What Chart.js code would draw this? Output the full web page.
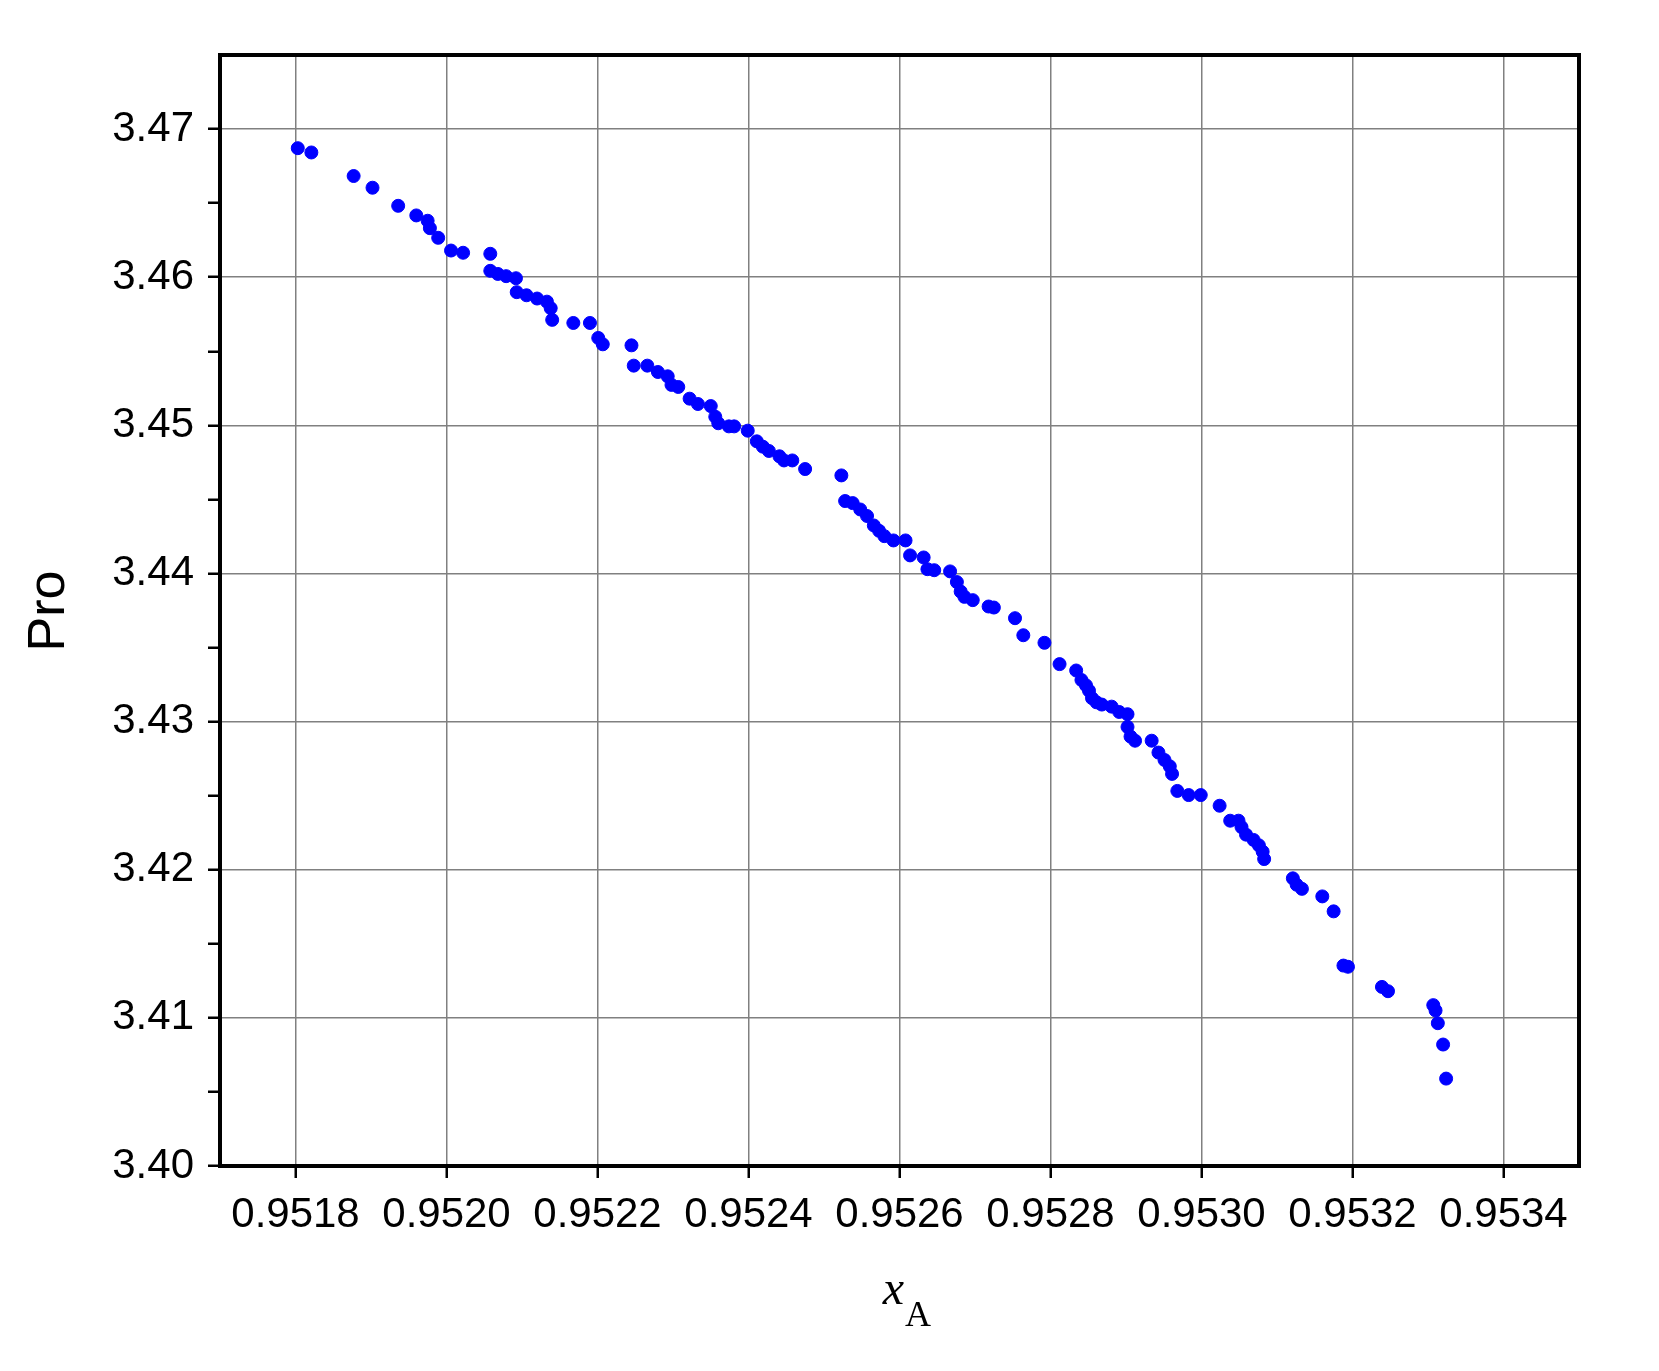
<!DOCTYPE html>
<html><head><meta charset="utf-8">
<script src="https://cdn.jsdelivr.net/npm/chart.js@4"></script>
<style>html,body{margin:0;padding:0;background:#fff}#wrap{width:1659px;height:1371px}</style>
</head><body><div id="wrap"><canvas id="c" width="1659" height="1371"></canvas></div>
<script>
const xValues=[0.951803,0.951821,0.951877,0.951902,0.951936,0.95196,0.951975,0.951978,0.951989,0.952006,0.952022,0.952058,0.952058,0.952068,0.952079,0.952092,0.952093,0.952106,0.95212,0.952133,0.952138,0.95214,0.952168,0.95219,0.952201,0.952207,0.952245,0.952248,0.952266,0.95228,0.952293,0.952298,0.952307,0.952322,0.952333,0.95235,0.952356,0.95236,0.952374,0.952381,0.952399,0.952411,0.952419,0.952427,0.952441,0.952447,0.952458,0.952475,0.952523,0.952528,0.952538,0.952548,0.952557,0.952566,0.952573,0.95258,0.952592,0.952608,0.952614,0.952632,0.952637,0.952646,0.952667,0.952676,0.952681,0.952686,0.952697,0.952718,0.952725,0.952753,0.952764,0.952792,0.952812,0.952834,0.952841,0.952847,0.952851,0.952855,0.952861,0.952868,0.952881,0.952891,0.952902,0.952902,0.952906,0.952912,0.952934,0.952943,0.952951,0.952958,0.952961,0.952968,0.952983,0.952999,0.953024,0.953038,0.953049,0.953053,0.953059,0.953069,0.953076,0.953081,0.953083,0.953121,0.953126,0.953133,0.95316,0.953175,0.953188,0.953194,0.953239,0.953247,0.953307,0.95331,0.953313,0.95332,0.953324];
const yValues=[3.46871,3.46842,3.46683,3.46604,3.46482,3.46417,3.46381,3.46331,3.46266,3.4618,3.46165,3.46158,3.46043,3.46022,3.46007,3.45993,3.45899,3.45878,3.45856,3.45835,3.45791,3.45712,3.45691,3.45691,3.4559,3.45547,3.4554,3.45403,3.45403,3.4536,3.45331,3.45273,3.45259,3.4518,3.45144,3.4513,3.45058,3.45014,3.44993,3.44993,3.44964,3.44892,3.44856,3.44827,3.44791,3.44763,3.44763,3.44705,3.44662,3.44489,3.44475,3.44432,3.44388,3.44324,3.44288,3.44252,3.44223,3.44223,3.44122,3.44108,3.44029,3.44022,3.44014,3.43942,3.43878,3.43842,3.4382,3.43777,3.4377,3.43698,3.43583,3.43532,3.43388,3.43345,3.43281,3.43245,3.43209,3.43158,3.4313,3.43115,3.43101,3.43065,3.4305,3.42964,3.42899,3.42871,3.42871,3.42791,3.42741,3.42698,3.42647,3.42532,3.42504,3.42504,3.42432,3.42331,3.42331,3.42288,3.42237,3.42201,3.42165,3.42122,3.42072,3.41942,3.41899,3.41871,3.4182,3.41719,3.41353,3.41345,3.41209,3.4118,3.41086,3.4105,3.40964,3.4082,3.4059];
const xTicks=[0.9518,0.9520,0.9522,0.9524,0.9526,0.9528,0.9530,0.9532,0.9534];
const yTicks=[3.40,3.405,3.41,3.415,3.42,3.425,3.43,3.435,3.44,3.445,3.45,3.455,3.46,3.465,3.47];
const yMajor=v=>Math.abs(Math.round(v*100)-v*100)<1e-6;
const pts=xValues.map((x,i)=>({x:x,y:yValues[i]}));
const deco={id:'deco',afterDraw(ch){const a=ch.chartArea,c=ch.ctx;c.save();
c.strokeStyle='#000';c.lineWidth=4;c.strokeRect(a.left,a.top,a.right-a.left,a.bottom-a.top);
c.fillStyle='#000';c.font='52px "Liberation Sans", Arial';c.textAlign='center';c.textBaseline='middle';
c.translate(50,611);c.rotate(-Math.PI/2);c.fillText('Pro',0,0);c.restore();
c.save();c.fillStyle='#000';c.textBaseline='alphabetic';c.font='italic 48px "Liberation Serif", serif';
c.textAlign='right';c.fillText('x',904,1304);c.textAlign='left';c.font='36px "Liberation Serif", serif';c.fillText('A',905,1326);c.restore();}};
new Chart(document.getElementById('c'),{type:'scatter',
data:{datasets:[{data:pts,backgroundColor:'#0000ff',borderColor:'#0000ff',pointRadius:6.5,pointHoverRadius:6.5}]},
options:{responsive:false,animation:false,events:[],
layout:{padding:{left:0,top:55,right:80,bottom:0}},
plugins:{legend:{display:false},tooltip:{enabled:false}},
scales:{
x:{type:'linear',min:0.9517,max:0.9535,
afterBuildTicks(s){s.ticks=xTicks.map(v=>({value:v}));},
afterFit(s){s.height=205;},
border:{display:false},
grid:{color:'#808080',lineWidth:1.5,tickColor:'#000',tickLength:12,tickWidth:2.5},
ticks:{color:'#000',font:{size:42,family:'"Liberation Sans", Arial'},padding:12,maxRotation:0,autoSkip:false,callback:v=>v.toFixed(4)}},
y:{type:'linear',min:3.40,max:3.475,
afterBuildTicks(s){s.ticks=yTicks.map(v=>({value:v}));},
afterFit(s){s.width=220;},
border:{display:false},
grid:{color:c=>yMajor(c.tick.value)?'#808080':'rgba(0,0,0,0)',lineWidth:1.5,tickColor:'#000',tickLength:12,tickWidth:2.5},
ticks:{color:'#000',font:{size:42,family:'"Liberation Sans", Arial'},padding:14,autoSkip:false,callback:v=>yMajor(v)?v.toFixed(2):''}}
}},plugins:[deco]});
</script></body></html>
